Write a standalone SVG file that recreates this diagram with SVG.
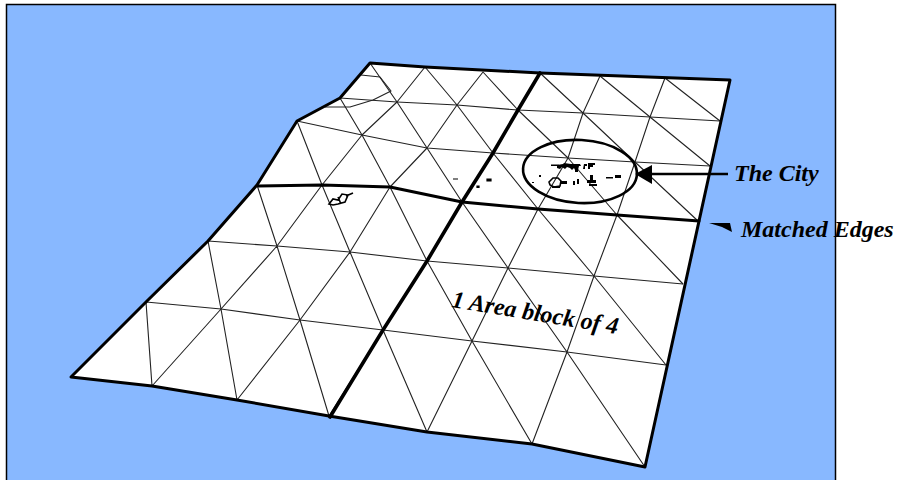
<svg xmlns="http://www.w3.org/2000/svg" width="897" height="480" viewBox="0 0 897 480">
<style>
.mesh{fill:none;stroke:#222;stroke-width:1.1;stroke-linejoin:round}
.edge{fill:none;stroke:#000;stroke-linejoin:round;stroke-linecap:round}
.lab{font-family:"Liberation Serif","Times New Roman",serif;font-weight:bold;font-style:italic;font-size:24px;fill:#000}
.spot{fill:none;stroke:#000;stroke-width:1.6}
</style>
<rect x="6.5" y="4.5" width="829" height="478" fill="#88b8ff" stroke="#000" stroke-width="1.5"/>
<g id="terrain">
<polygon points="370,63 425,67 540,73 730,80 645,467 532,444 427,432 329,416 237,400 152,386 71,377 146,302 208,241 257,185 297,121 340,98" fill="#fff"/>
</g>
<g id="connectors">
<g class="mesh">
<path d="M340,98 397,102 457,105 518,110 583,113 650,117 720,121"/>
<path d="M297,121 362,135 427,148 493,153 568,158 635,162 710,166"/>
<path d="M208,241 277,246 350,252 427,261 508,268 594,276 683,284"/>
<path d="M146,302 221,309 300,320 383,330 472,341 567,352 666,365"/>
<path d="M370,63 397,102 425,67 457,105 483,72 518,110 540,73 583,113 600,76 650,117 665,78 720,121"/>
<path d="M340,98 362,135 397,102 427,148 457,105 493,153 518,110 568,158 583,113 635,162 650,117 710,166"/>
<path d="M297,121 322,185 362,135 390,187 427,148 462,202 493,153 538,209 568,158 617,215 635,162 698,221"/>
<path d="M257,185 277,246 322,185 350,252 390,187 427,261 462,202 508,268 538,209 594,276 617,215 683,284"/>
<path d="M208,241 221,309 277,246 300,320 350,252 383,330 427,261 472,341 508,268 567,352 594,276 666,365"/>
<path d="M146,302 152,386 221,309 237,400 300,320 329,416 383,330 427,432 472,341 532,444 567,352 645,467"/>
<path d="M361,75 380,77 391,91 373,100 350,107 325,107"/>
</g>
<path class="edge" stroke-width="3" d="M258,186 322,185 390,187 462,202 538,209 617,215 699,221"/>
<path class="edge" stroke-width="3.6" d="M540,73 518,110 493,153 462,202 427,261 383,330 330,417"/>
<polygon class="edge" stroke-width="3" points="370,63 425,67 540,73 730,80 645,467 532,444 427,432 329,416 237,400 152,386 71,377 146,302 208,241 257,185 297,121 340,98"/>
</g>
<g id="left-town">
<path class="spot" d="M329,204 333,199 338,200 342,194 348,195 345,202 338,204 333,205ZM338,197 341,204M346,196 353,193"/>
<path d="M453,179h5M487,179h4v2h-4ZM477,186h2v1.500h-2Z" stroke="#000" stroke-width="1.200"/>
</g>
<g id="city">
<ellipse cx="580" cy="171.500" rx="57" ry="31.500" transform="rotate(3 580 171.500)" fill="none" stroke="#000" stroke-width="2.600"/>
<path d="M551,164.500h8v1.500h-8ZM557,165l6-1 1-1 7,1h9l1,2h-2l-1,4h-3l-1,-2-2,2-2,-2-3,-1-2,2-3,-2-2,2-3,-1ZM584,164h3v2h-2v3h-2ZM588,163h7v2h-2v2h-3v2h-2ZM575,170h3v2h-3Z" fill="#000"/>
<path class="spot" d="M549,182 553,178h5l3,3-1,5-6,1-4,-2Z"/>
<path d="M552,186h8v2h-8ZM561,181h6v3h-6ZM573,181h2v4h-2ZM577,179h2v5h-2ZM590,175h3v5h3v3h-9v-3h3ZM589,184h8v2h-8ZM606,177h7v1.500h-7ZM615,175h6v3h-6ZM539,175h2v2h-2ZM532,182h2v1h-2Z" fill="#000"/>
</g>
<g id="label-city">
<line x1="728" y1="174" x2="648" y2="174" stroke="#000" stroke-width="2.500"/>
<polygon points="635,174 652,165 652,184" fill="#000"/>
<text class="lab" x="734" y="181">The City</text>
</g>
<g id="label-edges">
<polygon points="709,223 730,223 732,232 722,227" fill="#000"/>
<text class="lab" x="741" y="237">Matched Edges</text>
</g>
<g id="label-block">
<text class="lab" transform="translate(451 307) rotate(9.300)">1 Area block of 4</text>
</g>
</svg>
